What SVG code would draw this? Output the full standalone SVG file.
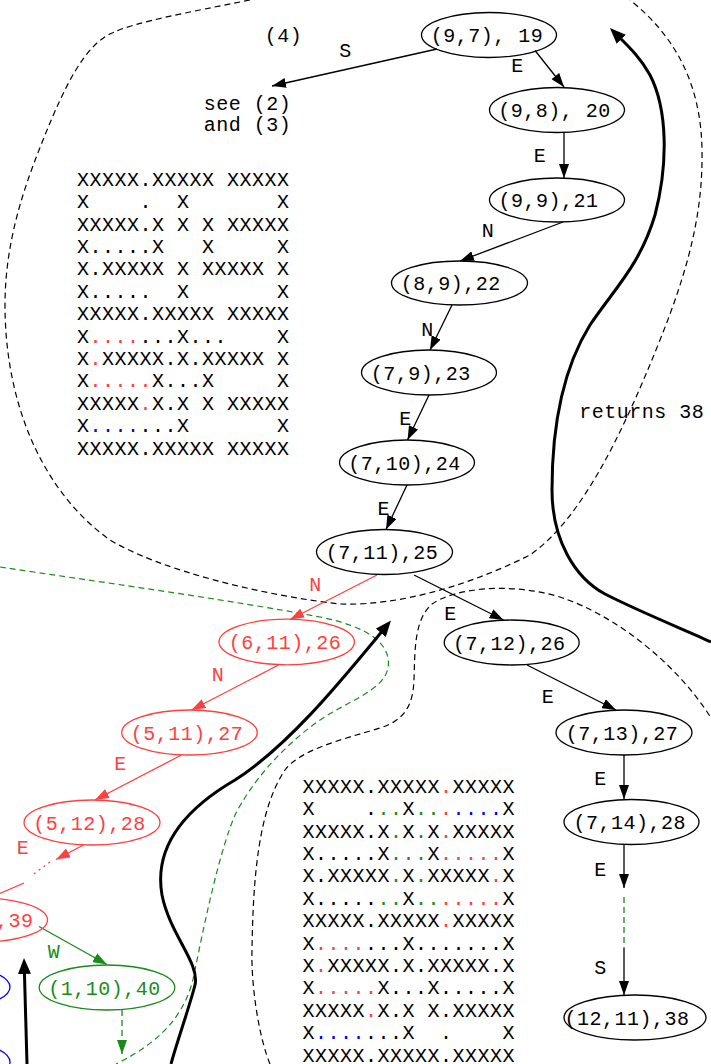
<svg xmlns="http://www.w3.org/2000/svg" width="711" height="1064" viewBox="0 0 711 1064">
<style>
text { font-family: "Liberation Mono", "DejaVu Sans Mono", monospace; font-size: 20px; letter-spacing: 0.5px; fill: #000; white-space: pre; }
.m { text-anchor: middle; }
.node ellipse { fill: none; stroke: #000; stroke-width: 1.3; }
.red ellipse { stroke: #ff4040; }
.red text, text.red, tspan.r { fill: #ff4040; }
.grn ellipse { stroke: #1a8a1a; }
.grn text, text.grn, tspan.g { fill: #1a8a1a; }
.blu ellipse { stroke: #0000ff; }
tspan.b { fill: #0000ff; }
.e { fill: none; stroke: #000; stroke-width: 1.3; }
.er { stroke: #ff4040; }
.eg { stroke: #1a8a1a; }
.dash { stroke-dasharray: 6 4; }
.dot { stroke-dasharray: 2 4; }
.thick { fill: none; stroke: #000; stroke-width: 3; }
.region { fill: none; stroke: #000; stroke-width: 1.2; stroke-dasharray: 6 4; }
.gregion { fill: none; stroke: #1a8a1a; stroke-width: 1.2; stroke-dasharray: 6 4; }
</style>
<defs>
<marker id="ak" markerUnits="userSpaceOnUse" viewBox="0 0 14 10" markerWidth="14" markerHeight="10" refX="14" refY="5" orient="auto"><path d="M0,0 L14,5 L0,10 z" fill="#000"/></marker>
<marker id="ar" markerUnits="userSpaceOnUse" viewBox="0 0 14 10" markerWidth="14" markerHeight="10" refX="14" refY="5" orient="auto"><path d="M0,0 L14,5 L0,10 z" fill="#ff4040"/></marker>
<marker id="ag" markerUnits="userSpaceOnUse" viewBox="0 0 14 10" markerWidth="14" markerHeight="10" refX="14" refY="5" orient="auto"><path d="M0,0 L14,5 L0,10 z" fill="#1a8a1a"/></marker>
<marker id="at" markerUnits="userSpaceOnUse" viewBox="0 0 16 13" markerWidth="16" markerHeight="13" refX="6" refY="6.5" orient="auto"><path d="M0,0 L16,6.5 L0,13 z" fill="#000"/></marker>
</defs>

<g id="annotations">
<path class="region" d="M250,0 C190,12 135,22 112,33 C85,45 65,85 43,140 C25,185 5,240 5,305 C5,400 40,490 110,540 C160,570 260,595 340,604 C400,606 470,585 530,555 C580,520 620,440 660,340 C690,265 703,210 702,150 C701,90 680,40 630,0"/>
<path class="region" d="M270,1064 C260,1040 251,990 252,950 C253,880 258,810 285,770 C300,750 340,740 380,728 C405,720 413,705 414,680 C415,650 414,620 432,604 C455,588 510,582 560,597 C620,617 680,668 711,718"/>
<path class="gregion" d="M0,567 C100,582 230,600 320,617 C370,627 392,645 388,668 C384,690 350,700 320,720 C280,748 250,785 235,815 C220,850 205,920 195,970 C188,1010 165,1040 116,1064"/>
<path class="thick" marker-end="url(#at)" d="M711,642 C690,632 640,612 605,594 C575,578 552,540 552,490 C552,430 562,370 590,325 C615,288 640,265 655,215 C668,165 668,110 650,75 C640,57 628,46 617,35"/>
<path class="thick" marker-end="url(#at)" d="M171,1064 C176,1045 190,1005 195,985 C200,963 170,935 162,895 C155,855 175,815 235,780 C290,745 345,676 384.6,628.2"/>
<path class="thick" marker-end="url(#at)" d="M27,1064 L24.3,968"/>
<text class="m" x="283.5" y="41.5">(4)</text>
<text class="m" x="247.5" y="110">see (2)</text>
<text class="m" x="247.5" y="131">and (3)</text>
<text class="m" x="641.7" y="418">returns 38</text>
</g>

<g id="maze1" xml:space="preserve">
<text x="77" y="185.7">XXXXX.XXXXX XXXXX</text>
<text x="77" y="208.1">X    .  X       X</text>
<text x="77" y="230.5">XXXXX.X X X XXXXX</text>
<text x="77" y="252.9">X.....X   X     X</text>
<text x="77" y="275.3">X.XXXXX X XXXXX X</text>
<text x="77" y="297.7">X.....  X       X</text>
<text x="77" y="320.1">XXXXX.XXXXX XXXXX</text>
<text x="77" y="342.5">X<tspan class="r">....</tspan>...X...    X</text>
<text x="77" y="364.9">X<tspan class="r">.</tspan>XXXXX.X.XXXXX X</text>
<text x="77" y="387.3">X<tspan class="r">.....</tspan>X...X     X</text>
<text x="77" y="409.7">XXXXX<tspan class="r">.</tspan>X.X X XXXXX</text>
<text x="77" y="432.1">X<tspan class="b">....</tspan>...X       X</text>
<text x="77" y="454.5">XXXXX.XXXXX XXXXX</text>
</g>

<g id="maze2" xml:space="preserve">
<text x="302.5" y="792.7">XXXXX.XXXXX<tspan class="r">.</tspan>XXXXX</text>
<text x="302.5" y="815.1">X    .<tspan class="g">..</tspan>X<tspan class="g">..</tspan><tspan class="r">.</tspan><tspan class="b">....</tspan>X</text>
<text x="302.5" y="837.5">XXXXX.X<tspan class="g">.</tspan>X<tspan class="g">.</tspan>X<tspan class="r">.</tspan>XXXXX</text>
<text x="302.5" y="859.9">X.....X<tspan class="g">...</tspan>X<tspan class="r">.....</tspan>X</text>
<text x="302.5" y="882.3">X.XXXXX<tspan class="g">.</tspan>X<tspan class="g">.</tspan>XXXXX<tspan class="r">.</tspan>X</text>
<text x="302.5" y="904.7">X.....<tspan class="g">..</tspan>X<tspan class="g">..</tspan><tspan class="r">.....</tspan>X</text>
<text x="302.5" y="927.1">XXXXX.XXXXX<tspan class="r">.</tspan>XXXXX</text>
<text x="302.5" y="949.5">X<tspan class="r">....</tspan>...X.......X</text>
<text x="302.5" y="971.9">X<tspan class="r">.</tspan>XXXXX.X.XXXXX.X</text>
<text x="302.5" y="994.3">X<tspan class="r">.....</tspan>X...X.....X</text>
<text x="302.5" y="1016.7">XXXXX<tspan class="r">.</tspan>X.X X.XXXXX</text>
<text x="302.5" y="1039.1">X<tspan class="b">....</tspan>...X  .    X</text>
<text x="302.5" y="1061.5">XXXXX.XXXXX.XXXXX</text>
</g>

<g id="connectors">
<line class="e" x1="437" y1="49" x2="272" y2="86" marker-end="url(#ak)"/>
<line class="e" x1="535" y1="50.5" x2="564" y2="87" marker-end="url(#ak)"/>
<line class="e" x1="564" y1="132.5" x2="564" y2="178" marker-end="url(#ak)"/>
<line class="e" x1="563" y1="222" x2="460" y2="261" marker-end="url(#ak)"/>
<line class="e" x1="452" y1="305" x2="430" y2="350" marker-end="url(#ak)"/>
<line class="e" x1="429" y1="395" x2="407.5" y2="440" marker-end="url(#ak)"/>
<line class="e" x1="407" y1="485" x2="386" y2="529.5" marker-end="url(#ak)"/>
<line class="e" x1="414" y1="575" x2="503.5" y2="620" marker-end="url(#ak)"/>
<line class="e" x1="527" y1="665" x2="616" y2="710" marker-end="url(#ak)"/>
<line class="e" x1="624" y1="755" x2="624" y2="799" marker-end="url(#ak)"/>
<line class="e" x1="624" y1="844.5" x2="624" y2="888" marker-end="url(#ak)"/>
<line class="e eg dash" x1="624" y1="897" x2="624" y2="948"/>
<line class="e" x1="624" y1="948" x2="624" y2="995" marker-end="url(#ak)"/>
<line class="e er" x1="377" y1="575" x2="290" y2="619.5" marker-end="url(#ar)"/>
<line class="e er" x1="278.5" y1="665" x2="191.5" y2="710" marker-end="url(#ar)"/>
<line class="e er" x1="181.5" y1="755" x2="95" y2="800" marker-end="url(#ar)"/>
<line class="e er" x1="83.5" y1="845" x2="56" y2="859.5" marker-end="url(#ar)"/>
<line class="e er dot" x1="50" y1="862" x2="31" y2="876"/>
<line class="e er" x1="24" y1="883" x2="0" y2="893.5"/>
<line class="e eg" x1="39" y1="926.5" x2="107" y2="964.5" marker-end="url(#ag)"/>
<line class="e eg dash" x1="122" y1="1010" x2="122" y2="1054" marker-end="url(#ag)"/>
<text class="m" x="345.5" y="57">S</text>
<text class="m" x="517.5" y="72">E</text>
<text class="m" x="540" y="162">E</text>
<text class="m" x="488" y="237">N</text>
<text class="m" x="427.5" y="336">N</text>
<text class="m" x="405.5" y="425">E</text>
<text class="m" x="383.7" y="515">E</text>
<text class="m" x="450.5" y="620">E</text>
<text class="m" x="548" y="703">E</text>
<text class="m" x="600.5" y="785">E</text>
<text class="m" x="600.5" y="876">E</text>
<text class="m" x="600.5" y="974">S</text>
<text class="m red" x="315.5" y="591">N</text>
<text class="m red" x="218" y="681">N</text>
<text class="m red" x="120.5" y="770">E</text>
<text class="m red" x="23" y="854">E</text>
<text class="m grn" x="54" y="958">W</text>
</g>

<g id="n19" class="node"><ellipse cx="489" cy="35" rx="67.5" ry="22.5"/><text class="m" x="487" y="42">(9,7), 19</text></g>
<g id="n20" class="node"><ellipse cx="557" cy="110" rx="67.5" ry="22.5"/><text class="m" x="554.5" y="117">(9,8), 20</text></g>
<g id="n21" class="node"><ellipse cx="557" cy="200" rx="67.5" ry="22"/><text class="m" x="548.5" y="207">(9,9),21</text></g>
<g id="n22" class="node"><ellipse cx="459.5" cy="283" rx="68" ry="22"/><text class="m" x="450.8" y="290">(8,9),22</text></g>
<g id="n23" class="node"><ellipse cx="429" cy="372.5" rx="67.5" ry="22.5"/><text class="m" x="420.8" y="379.5">(7,9),23</text></g>
<g id="n24" class="node"><ellipse cx="407" cy="462.5" rx="67.5" ry="22.5"/><text class="m" x="404.5" y="469.5">(7,10),24</text></g>
<g id="n25" class="node"><ellipse cx="384.5" cy="552" rx="68" ry="22.5"/><text class="m" x="382" y="559">(7,11),25</text></g>
<g id="n26" class="node"><ellipse cx="511.7" cy="642.5" rx="67.5" ry="22.5"/><text class="m" x="509.3" y="649.5">(7,12),26</text></g>
<g id="n27" class="node"><ellipse cx="624" cy="732.5" rx="68" ry="22.5"/><text class="m" x="622" y="739.5">(7,13),27</text></g>
<g id="n28" class="node"><ellipse cx="631.5" cy="822" rx="67.5" ry="22.5"/><text class="m" x="629.8" y="829">(7,14),28</text></g>
<g id="n38" class="node"><ellipse cx="635" cy="1017.5" rx="71" ry="22.5"/><text class="m" x="627" y="1025">(12,11),38</text></g>
<g id="r26" class="node red"><ellipse cx="286.7" cy="642" rx="67.7" ry="22.8"/><text class="m" x="285" y="649">(6,11),26</text></g>
<g id="r27" class="node red"><ellipse cx="189.5" cy="732.5" rx="67.8" ry="22.5"/><text class="m" x="187" y="739.5">(5,11),27</text></g>
<g id="r28" class="node red"><ellipse cx="92" cy="822.5" rx="68" ry="22.5"/><text class="m" x="89.5" y="829.5">(5,12),28</text></g>
<g id="r39" class="node red"><ellipse cx="-20" cy="920" rx="67.5" ry="22"/><text x="-4" y="926.5">,39</text></g>
<g id="g40" class="node grn"><ellipse cx="107" cy="987.5" rx="67.8" ry="22.5"/><text class="m" x="104.6" y="994.5">(1,10),40</text></g>
<g id="b1" class="node blu"><ellipse cx="-58" cy="987" rx="68" ry="22.5"/></g>
<g id="b2" class="node blu"><ellipse cx="-58" cy="1062" rx="68" ry="22.5"/></g>
</svg>
